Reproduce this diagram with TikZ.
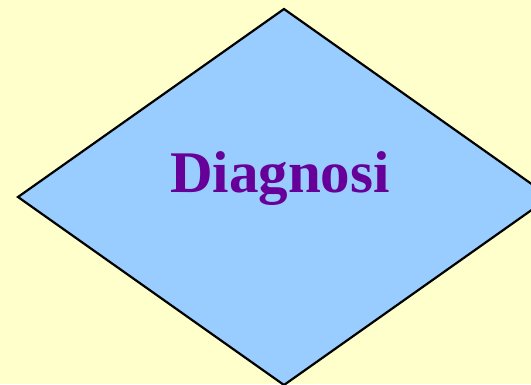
\documentclass[tikz,border=0pt]{standalone}
\usepackage{fontspec}
\setmainfont{Liberation Serif}
\definecolor{bgyellow}{HTML}{FFFFCC}
\definecolor{diafill}{HTML}{99CCFF}
\definecolor{txtpurple}{HTML}{660099}
\begin{document}
\begin{tikzpicture}[x=1pt,y=-1pt,
  diamondshape/.style={draw=black, fill=diafill, line width=2.2pt, line join=miter},
  label/.style={text=txtpurple, font=\fontsize{59}{59}\selectfont\bfseries, inner sep=0pt}]
\fill[bgyellow] (0,0) rectangle (531,384);
\useasboundingbox (0,0) rectangle (531,384);
\coordinate (top) at (284,9);
\coordinate (left) at (18,197);
\coordinate (right) at (550,197);
\coordinate (bottom) at (284,385);
\begin{scope}
\clip (0,0) rectangle (531,384);
\draw[diamondshape] (top) -- (right) -- (bottom) -- (left) -- cycle;
\end{scope}
\node[label, anchor=base] (diag) at (280,192) {Diagnosi};
\end{tikzpicture}
\end{document}
